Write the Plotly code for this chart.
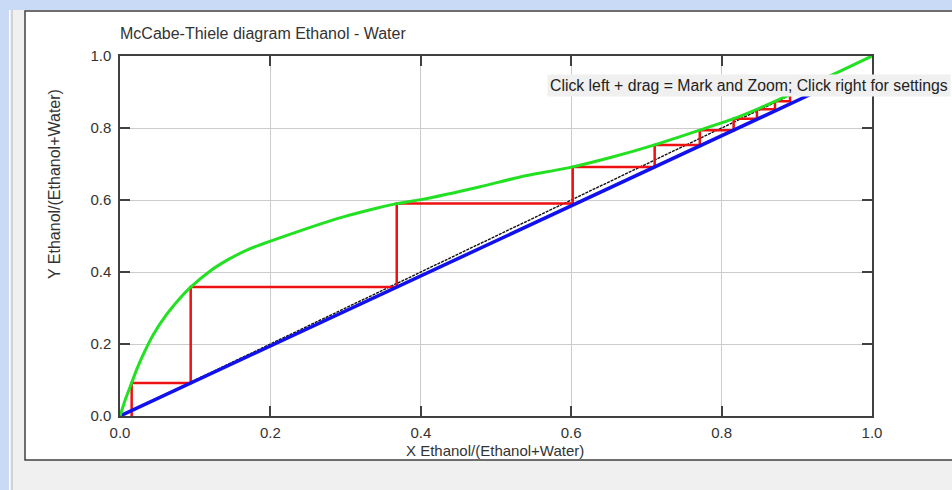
import plotly.graph_objects as go

# Equilibrium curve, ethanol mole fraction liquid (x) vs vapour (y)
eq_x = [0.0, 0.007, 0.0155, 0.022, 0.033, 0.044, 0.062, 0.080, 0.094, 0.120, 0.146,
        0.173, 0.200, 0.253, 0.297, 0.341, 0.368, 0.400, 0.479, 0.532, 0.602, 0.656,
        0.711, 0.771, 0.816, 0.847, 0.871, 0.891, 0.908, 0.930, 0.955, 1.0]
eq_y = [0.0, 0.045, 0.092, 0.128, 0.180, 0.225, 0.282, 0.328, 0.358, 0.403, 0.437,
        0.465, 0.486, 0.524, 0.553, 0.577, 0.590, 0.601, 0.637, 0.664, 0.692, 0.720,
        0.753, 0.794, 0.826, 0.852, 0.874, 0.893, 0.909, 0.931, 0.955, 1.0]

# Operating line
op_x = [0.0, 0.925]
op_y = [0.0, 0.900]

# Diagonal y = x
diag_x = [0.0, 1.0]
diag_y = [0.0, 1.0]

# Theoretical stages: liquid composition and vapour composition of each step
stage_x = [0.0155, 0.094, 0.368, 0.602, 0.711, 0.771, 0.816, 0.847, 0.871, 0.891, 0.908]
stage_y = [0.092, 0.358, 0.590, 0.692, 0.753, 0.794, 0.826, 0.852, 0.874, 0.893, 0.909]

tick_vals = [0.0, 0.2, 0.4, 0.6, 0.8, 1.0]

# Build the staircase path: vertical up to the curve, horizontal across to the next stage
step_x = [stage_x[0]]
step_y = [0.0]
for i, (sx, sy) in enumerate(zip(stage_x, stage_y)):
    step_x.append(sx)
    step_y.append(sy)
    nx = stage_x[i + 1] if i + 1 < len(stage_x) else op_x[-1]
    step_x.append(nx)
    step_y.append(sy)

# Page geometry (pixels) of the plotting area
W_PX, H_PX = 952, 490
L, R, T, B = 120, 872, 56, 416


def px_x(p):
    return (p - L) / (R - L)


def px_y(p):
    return (B - p) / (B - T)


FONT = "Liberation Sans, Arial, sans-serif"
TXT = "#333333"

fig = go.Figure()
fig.add_trace(go.Scatter(x=diag_x, y=diag_y, mode="lines",
                         line=dict(color="#111111", width=1.4, dash="3px,1px"),
                         hoverinfo="skip"))
fig.add_trace(go.Scatter(x=step_x, y=step_y, mode="lines",
                         line=dict(color="#ee1111", width=2.5), hoverinfo="skip"))
fig.add_trace(go.Scatter(x=op_x, y=op_y, mode="lines",
                         line=dict(color="#1111ee", width=3.5), hoverinfo="skip"))
fig.add_trace(go.Scatter(x=eq_x, y=eq_y, mode="lines",
                         line=dict(color="#22e022", width=3, shape="spline", smoothing=0.5),
                         hoverinfo="skip"))

shapes = [
    # window frame: blue strips at left and top
    dict(type="rect", xref="paper", yref="paper", x0=px_x(0), x1=px_x(9),
         y0=px_y(H_PX), y1=px_y(0), fillcolor="#c8daf5", line_width=0, layer="below"),
    dict(type="rect", xref="paper", yref="paper", x0=px_x(0), x1=px_x(W_PX),
         y0=px_y(10), y1=px_y(0), fillcolor="#c8daf5", line_width=0, layer="below"),
    dict(type="line", xref="paper", yref="paper", x0=px_x(9.5), x1=px_x(9.5),
         y0=px_y(H_PX), y1=px_y(10), line=dict(color="#ffffff", width=1), layer="below"),
    dict(type="line", xref="paper", yref="paper", x0=px_x(12), x1=px_x(12),
         y0=px_y(H_PX), y1=px_y(10), line=dict(color="#b4b4b4", width=1), layer="below"),
    # white chart panel with dark border
    dict(type="rect", xref="paper", yref="paper", x0=px_x(25), x1=px_x(W_PX + 20),
         y0=px_y(460), y1=px_y(11), fillcolor="#ffffff",
         line=dict(color="#404040", width=1.5), layer="below"),
]

annotations = [
    dict(text="McCabe-Thiele diagram Ethanol - Water", xref="paper", yref="paper",
         x=px_x(118), y=px_y(33), xanchor="left", yanchor="middle", showarrow=False,
         font=dict(family=FONT, size=16, color=TXT)),
    dict(text="Y Ethanol/(Ethanol+Water)", xref="paper", yref="paper",
         x=px_x(54), y=px_y(184), xanchor="center", yanchor="middle", textangle=-90,
         showarrow=False, font=dict(family=FONT, size=16, color=TXT)),
    dict(text="X Ethanol/(Ethanol+Water)", xref="paper", yref="paper",
         x=px_x(495), y=px_y(450), xanchor="center", yanchor="middle",
         showarrow=False, font=dict(family=FONT, size=15, color=TXT)),
    # hover hint box
    dict(text="Click left + drag = Mark and Zoom; Click right for settings",
         xref="paper", yref="paper", x=px_x(547), y=px_y(85), xanchor="left",
         yanchor="middle", showarrow=False, bgcolor="#f0f0f0", borderpad=2,
         font=dict(family=FONT, size=15.8, color="#222222")),
]

axis_common = dict(
    range=[0, 1], tickvals=tick_vals, tickformat=".1f",
    showgrid=True, gridcolor="#cccccc", gridwidth=1,
    showline=True, linecolor="#404040", linewidth=1.5, mirror="allticks",
    ticks="inside", ticklen=10, tickcolor="#404040", tickwidth=1.5,
    zeroline=False, tickfont=dict(family=FONT, size=15, color=TXT),
    fixedrange=True,
)

fig.update_layout(
    width=W_PX, height=H_PX,
    margin=dict(l=L, r=W_PX - R, t=T, b=H_PX - B, pad=0),
    paper_bgcolor="#f0f0f0", plot_bgcolor="#ffffff",
    showlegend=False, shapes=shapes, annotations=annotations,
    xaxis=dict(**axis_common, ticklabelstandoff=2),
    yaxis=dict(**axis_common, ticklabelstandoff=4),
)

fig.write_html("out.html", config={"displayModeBar": False})
